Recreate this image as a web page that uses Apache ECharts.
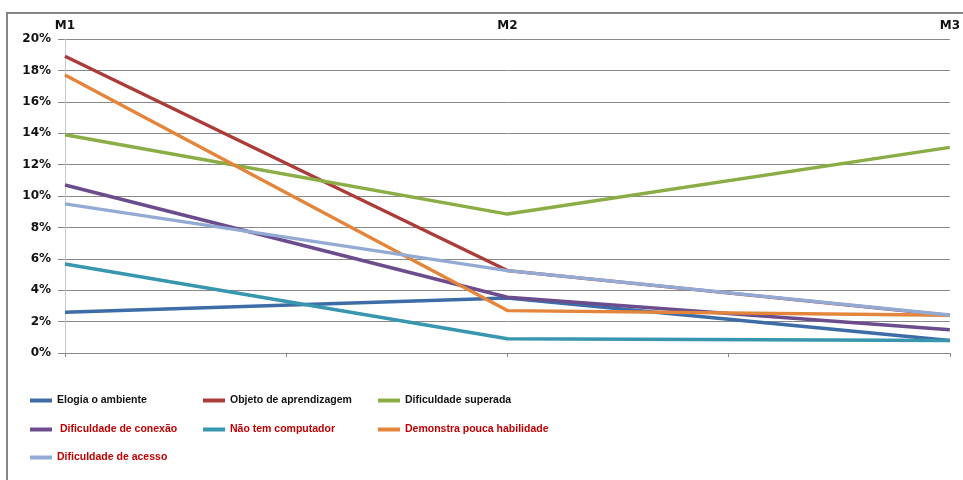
<!DOCTYPE html>
<html><head><meta charset="utf-8">
<script src="https://cdn.jsdelivr.net/npm/echarts@6/dist/echarts.min.js"></script>
<style>html,body{margin:0;padding:0;background:#fff}#c{width:963px;height:480px}</style>
</head><body><div id="c"></div>
<script>
var months = ['M1', 'M2', 'M3'];
var yTicks = [0, 2, 4, 6, 8, 10, 12, 14, 16, 18, 20];
var seriesNames = ['Elogia o ambiente', 'Objeto de aprendizagem', 'Dificuldade superada', ' Dificuldade de conexão', 'Não tem computador', 'Demonstra pouca habilidade', 'Dificuldade de acesso'];
var elogia = [2.6, 3.5, 0.8];
var objeto = [18.9, 5.25, 2.4];
var superada = [13.9, 8.85, 13.1];
var conexao = [10.7, 3.55, 1.48];
var semComputador = [5.67, 0.91, 0.8];
var habilidade = [17.7, 2.7, 2.4];
var acesso = [9.5, 5.25, 2.42];

var values = [elogia, objeto, superada, conexao, semComputador, habilidade, acesso];
var colors = ['#3D6CA6', '#AA3C39', '#8AAD45', '#6B4C8D', '#3896AF', '#E3853A', '#93AAD4'];
var textColors = ['#111', '#111', '#111', '#C00000', '#C00000', '#C00000', '#C00000'];
var legendPos = [[30, 395], [203, 395], [378, 395], [30, 424], [203, 424], [378, 424], [30, 452]];

var chart = echarts.init(document.getElementById('c'), null, {renderer: 'canvas'});
var series = values.map(function (v, i) {
  return {
    name: seriesNames[i], type: 'line', xAxisIndex: 0, data: v,
    symbol: 'none', lineStyle: {width: 3.4, color: colors[i]}, itemStyle: {color: colors[i]},
    z: 2 + i, animation: false
  };
});
var legends = seriesNames.map(function (n, i) {
  return {
    data: [{name: n, icon: 'rect', textStyle: {color: textColors[i]}}],
    left: legendPos[i][0], top: legendPos[i][1], padding: 0,
    itemWidth: 22, itemHeight: 4, itemGap: 3,
    textStyle: {fontFamily: 'Liberation Sans', fontWeight: 'bold', fontSize: 10.5}
  };
});
chart.setOption({
  animation: false,
  grid: {left: 65, right: 13, top: 39, bottom: 127, containLabel: false},
  legend: legends,
  graphic: [{type: 'rect', shape: {x: 7, y: 13, width: 970, height: 480}, style: {fill: 'none', stroke: '#868686', lineWidth: 2}, silent: true}],
  xAxis: [
    {type: 'category', data: months, position: 'top', boundaryGap: false,
     axisLine: {show: false}, axisTick: {show: false}, splitLine: {show: false},
     axisLabel: {color: '#111', fontFamily: 'DejaVu Sans', fontWeight: 'bold', fontSize: 12, margin: 7}},
    {type: 'value', min: 0, max: 4, interval: 1, position: 'bottom',
     axisLine: {show: true, lineStyle: {color: '#888', width: 1}},
     axisTick: {show: true, length: 4, lineStyle: {color: '#888'}},
     axisLabel: {show: false}, splitLine: {show: false}}
  ],
  yAxis: {type: 'value', min: yTicks[0], max: yTicks[yTicks.length - 1], interval: 2,
    axisLine: {show: true, lineStyle: {color: '#c8c8c8', width: 1}},
    axisTick: {show: true, length: 7, lineStyle: {color: '#888'}},
    splitLine: {show: true, lineStyle: {color: '#888', width: 1}},
    axisLabel: {formatter: '{value}%', color: '#111', fontFamily: 'DejaVu Sans', fontWeight: 'bold', fontSize: 12, margin: 14}},
  series: series
});
</script></body></html>
